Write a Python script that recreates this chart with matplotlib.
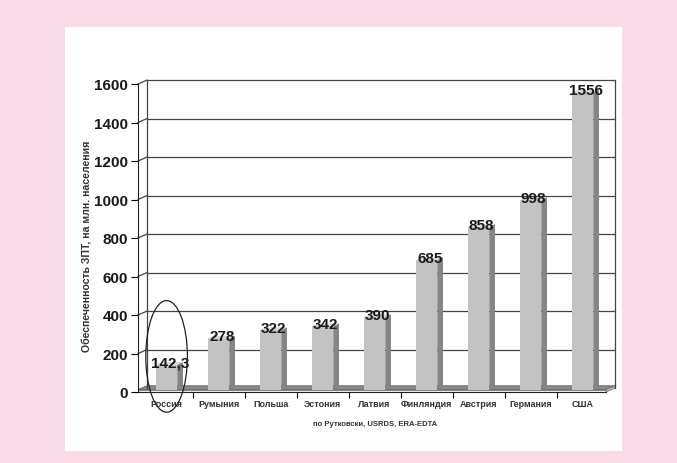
import numpy as np
import matplotlib.pyplot as plt
from matplotlib.patches import Rectangle, Polygon, Ellipse

plt.rcParams['font.family'] = ['Liberation Sans', 'DejaVu Sans']

countries = ['Россия', 'Румыния', 'Польша', 'Эстония', 'Латвия',
             'Финляндия', 'Австрия', 'Германия', 'США']
values = [142.3, 278, 322, 342, 390, 685, 858, 998, 1556]
labels = ['142,3', '278', '322', '342', '390', '685', '858', '998', '1556']
yticks = [0, 200, 400, 600, 800, 1000, 1200, 1400, 1600]

fig = plt.figure(figsize=(6.77, 4.64), dpi=100)
fig.patch.set_facecolor('#fadce9')
fig.patches.append(Rectangle((65/677, 1-452/464), 557/677, 424/464,
                             transform=fig.transFigure, facecolor='white',
                             edgecolor='none', zorder=-1))

ax = fig.add_axes([138/677, 1-393/464, 468/677, 308/464])
ax.set_zorder(1)
ax.patch.set_visible(False)
x0, x1 = -0.55, 8.45
ax.set_xlim(x0, x1)
ax.set_ylim(0, 1600)

# depth offset of the back wall
dx, dy = 0.17, 20

# floor: thin slab, grey top, light front
ax.add_patch(Polygon([(x0, 12), (x1, 12), (x1+dx, dy+12), (x0+dx, dy+12)],
                     closed=True, facecolor='#8c8c8c', edgecolor='#555555',
                     lw=0.6, zorder=1, clip_on=False))
ax.add_patch(Polygon([(x0, 0), (x1, 0), (x1, 12), (x0, 12)],
                     closed=True, facecolor='#f2f2f2', edgecolor='#777777',
                     lw=0.6, zorder=1, clip_on=False))
ax.add_patch(Polygon([(x1, 0), (x1+dx, dy), (x1+dx, dy+12), (x1, 12)],
                     closed=True, facecolor='#bbbbbb', edgecolor='#777777',
                     lw=0.6, zorder=1, clip_on=False))
# back wall grid
for t in yticks[1:]:
    ax.plot([x0+dx, x1+dx], [t+dy, t+dy], color='#444444', lw=0.9, zorder=1, clip_on=False)
    ax.plot([x0, x0+dx], [t, t+dy], color='#444444', lw=0.9, zorder=1, clip_on=False)
ax.plot([x0+dx, x0+dx], [dy, 1600+dy], color='#444444', lw=0.9, zorder=1, clip_on=False)
ax.plot([x1+dx, x1+dx], [dy, 1600+dy], color='#444444', lw=0.9, zorder=1, clip_on=False)

# bars with a pseudo-3D look
w = 0.41
sw, sh = 0.11, 14
for i, v in enumerate(values):
    xl, xr = i - w/2, i + w/2
    ax.add_patch(Rectangle((xl, 10), w, v - 10, facecolor='#c3c3c3', edgecolor='none', zorder=3))
    ax.add_patch(Polygon([(xr, 10), (xr+sw, 10+sh), (xr+sw, v+sh), (xr, v)],
                         closed=True, facecolor='#858585', edgecolor='none', zorder=3))
    ax.add_patch(Polygon([(xl, v), (xr, v), (xr+sw, v+sh), (xl+sw, v+sh)],
                         closed=True, facecolor='#d9d9d9', edgecolor='none', zorder=3,
                         clip_on=False))
    ax.text(i + 0.06, v + 12, labels[i], ha='center', va='center',
            fontsize=11, fontweight='bold', color='#1a1a1a', zorder=5, clip_on=False)

# circle around Russia
ax.add_patch(Ellipse((0, 185), 0.8, 580, fill=False, edgecolor='#222222',
                     lw=0.9, zorder=6, clip_on=False))

for s in ['top', 'right']:
    ax.spines[s].set_visible(False)
ax.spines['left'].set_color('#222222')
ax.spines['bottom'].set_color('#222222')
ax.set_yticks(yticks)
ax.set_yticklabels([str(t) for t in yticks], fontsize=11, fontweight='bold', color='#1a1a1a')
ax.tick_params(axis='y', length=5, width=0.8, pad=2)
ax.set_xticks(range(len(countries)))
ax.set_xticklabels(countries, fontsize=6.5, fontweight='bold', color='#333333')
ax.tick_params(axis='x', length=0, pad=5)
ax.set_xticks(np.arange(0.5, 8.5, 1), minor=True)
ax.tick_params(axis='x', which='minor', length=4, width=0.8)

fig.text(88/677, 1-246/464, 'Обеспеченность ЗПТ, на млн. населения', rotation=90,
         ha='center', va='center', fontsize=7.6, fontweight='bold', color='#333333')
fig.text(375/677, 1-425/464, 'по Рутковски, USRDS, ERA-EDTA', ha='center', va='center',
         fontsize=5.5, fontweight='bold', color='#333333')

plt.savefig('out.png', dpi=100)
